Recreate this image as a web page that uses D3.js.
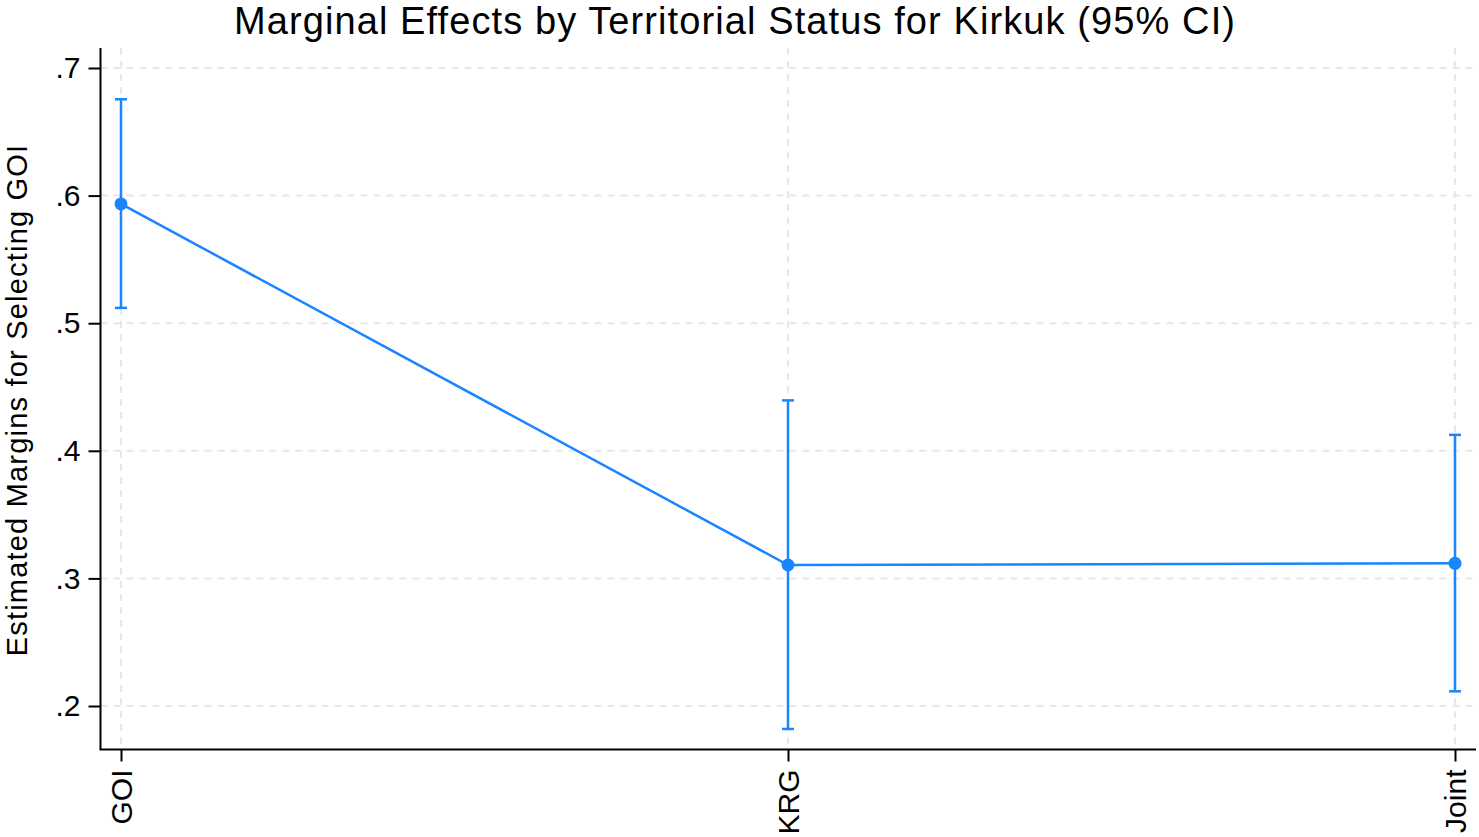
<!DOCTYPE html>
<html>
<head>
<meta charset="utf-8">
<script src="https://cdn.jsdelivr.net/npm/d3@7"></script>
<style>
  body { margin: 0; background: #fff; }
  svg { display: block; font-family: "Liberation Sans", Arial, sans-serif; }
</style>
</head>
<body>
<div id="chart"></div>
<script>
// values
const categories = ['GOI', 'KRG', 'Joint'];
const margins = [0.5935, 0.3105, 0.3118];
const ciLow = [0.512, 0.182, 0.2115];
const ciHigh = [0.6755, 0.4395, 0.4125];
const yTicks = [0.2, 0.3, 0.4, 0.5, 0.6, 0.7];
const yTickLabels = ['.2', '.3', '.4', '.5', '.6', '.7'];

const W = 1479, H = 837;
const blue = '#1a85ff';

const svg = d3.select('#chart').append('svg')
    .attr('width', W)
    .attr('height', H);

const x = d3.scalePoint()
    .domain(categories)
    .range([121, 1455]);

const y = d3.scaleLinear()
    .domain([0.2, 0.7])
    .range([706, 68]);

const axLeft = 100.5, axBottom = 749.5, axTop = 48, axRight = 1476;

// grid
const grid = svg.append('g').attr('id', 'grid');
grid.selectAll('line.h')
    .data(yTicks)
    .join('line')
    .attr('class', 'h')
    .attr('x1', axLeft).attr('x2', axRight)
    .attr('y1', d => y(d)).attr('y2', d => y(d))
    .attr('stroke', '#e8e8e8')
    .attr('stroke-width', 2)
    .attr('stroke-dasharray', '7,6');
grid.selectAll('line.v')
    .data(categories)
    .join('line')
    .attr('class', 'v')
    .attr('x1', d => x(d)).attr('x2', d => x(d))
    .attr('y1', axTop).attr('y2', axBottom)
    .attr('stroke', '#e8e8e8')
    .attr('stroke-width', 2)
    .attr('stroke-dasharray', '7,6');

// axes
const yAxis = d3.axisLeft(y)
    .tickValues(yTicks)
    .tickFormat((d, i) => yTickLabels[i])
    .tickSize(12)
    .tickPadding(8);
const gy = svg.append('g')
    .attr('transform', `translate(${axLeft},0)`)
    .call(yAxis);
gy.select('.domain').remove();
gy.append('line')
    .attr('x1', 0).attr('x2', 0)
    .attr('y1', axTop).attr('y2', axBottom)
    .attr('stroke', '#000').attr('stroke-width', 2);
gy.selectAll('.tick line').attr('stroke-width', 2);
gy.selectAll('.tick text')
    .attr('font-size', 30)
    .attr('fill', '#000')
    .attr('font-family', '"Liberation Sans", Arial, sans-serif');

const xAxis = d3.axisBottom(x)
    .tickSize(12)
    .tickPadding(6);
const gx = svg.append('g')
    .attr('transform', `translate(0,${axBottom})`)
    .call(xAxis);
gx.select('.domain').remove();
gx.append('line')
    .attr('x1', axLeft - 1).attr('x2', axRight)
    .attr('y1', 0).attr('y2', 0)
    .attr('stroke', '#000').attr('stroke-width', 2);
gx.selectAll('.tick line').attr('stroke-width', 2);
gx.selectAll('.tick text')
    .attr('font-size', 30)
    .attr('fill', '#000')
    .attr('font-family', '"Liberation Sans", Arial, sans-serif')
    .attr('transform', 'rotate(-90)')
    .attr('x', -20)
    .attr('y', 0)
    .attr('dy', '0.36em')
    .attr('text-anchor', 'end');

// data
const rows = categories.map((c, i) => ({ c, m: margins[i], lo: ciLow[i], hi: ciHigh[i] }));
const plot = svg.append('g').attr('id', 'data');

plot.selectAll('line.ci')
    .data(rows)
    .join('line')
    .attr('class', 'ci')
    .attr('x1', d => x(d.c)).attr('x2', d => x(d.c))
    .attr('y1', d => y(d.lo)).attr('y2', d => y(d.hi))
    .attr('stroke', blue).attr('stroke-width', 2.5);

['lo', 'hi'].forEach(k => {
    plot.selectAll('line.cap-' + k)
        .data(rows)
        .join('line')
        .attr('class', 'cap-' + k)
        .attr('x1', d => x(d.c) - 6).attr('x2', d => x(d.c) + 6)
        .attr('y1', d => y(d[k])).attr('y2', d => y(d[k]))
        .attr('stroke', blue).attr('stroke-width', 2.5);
});

plot.append('path')
    .datum(rows)
    .attr('fill', 'none')
    .attr('stroke', blue)
    .attr('stroke-width', 2.5)
    .attr('d', d3.line().x(d => x(d.c)).y(d => y(d.m)));

plot.selectAll('circle')
    .data(rows)
    .join('circle')
    .attr('cx', d => x(d.c))
    .attr('cy', d => y(d.m))
    .attr('r', 6.5)
    .attr('fill', blue);

// labels
svg.append('text')
    .attr('x', 735)
    .attr('y', 34)
    .attr('text-anchor', 'middle')
    .attr('font-size', 38)
    .attr('letter-spacing', 1.1)
    .text('Marginal Effects by Territorial Status for Kirkuk (95% CI)');

svg.append('text')
    .attr('transform', 'translate(27,400) rotate(-90)')
    .attr('text-anchor', 'middle')
    .attr('font-size', 29)
    .attr('letter-spacing', 1.2)
    .text('Estimated Margins for Selecting GOI');
</script>
</body>
</html>
